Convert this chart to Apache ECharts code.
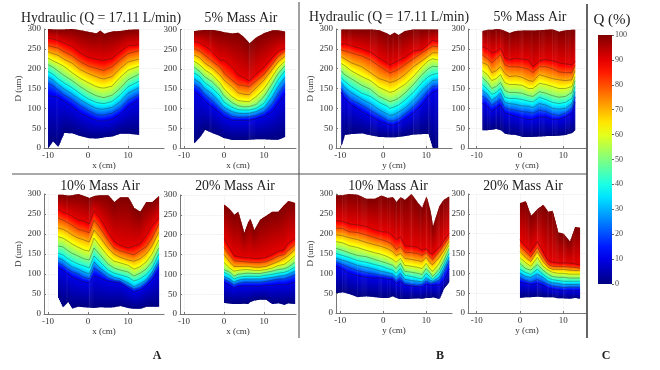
<!DOCTYPE html>
<html><head><meta charset="utf-8">
<style>html,body{margin:0;padding:0;background:#fff}#c{width:660px;height:370px;filter:blur(0.35px)}</style>
<script src="https://cdn.jsdelivr.net/npm/echarts@6/dist/echarts.min.js"></script>
</head><body><div id="c"></div>
<script>
// Each level table runs bottom edge (Q=0), Q=10 ... Q=90, top edge (Q=100); values are D in um.
const levelsQ = [0,10,20,30,40,50,60,70,80,90,100];
const colorbarTicks = [0,10,20,30,40,50,60,70,80,90,100];

const a1x = [-10,-8.8,-7.5,-6,-4,-2,0,2,3,4,6,8,10,12.7];
const a1d = [
[0,17,3,38,37,30,25,24,25,27,29,36,36,33],
[132,130,128,118,104,88,78,70,68,68,72,84,104,122],
[163,157,146,134,122,107,95,85,83,83,88,100,120,135],
[178,172,160,149,136,122,110,100,98,98,102,116,138,152],
[193,186,175,164,152,137,124,115,113,112,117,133,154,168],
[210,204,194,183,170,155,142,132,129,127,133,150,172,186],
[227,220,214,206,190,176,165,155,152,151,156,178,196,206],
[243,238,234,224,214,198,188,180,176,174,180,200,217,224],
[258,255,252,243,233,218,207,201,198,196,205,222,238,245],
[277,275,271,265,256,240,229,224,222,221,226,243,258,260],
[300,299,299,299,300,297,293,289,296,288,294,295,298,299]];

const a2x = [-7.5,-6,-4.8,-3,-1,0,2,3.5,5,6.3,8,10,12,13.5,15.2];
const a2d = [
[12,28,46,38,30,25,20,20,20,21,22,22,21,21,28],
[143,132,118,104,88,78,70,70,70,70,74,80,92,112,135],
[160,150,135,120,100,92,80,78,78,79,82,90,110,135,160],
[175,165,150,137,115,103,92,88,87,88,92,102,128,155,178],
[190,180,165,152,132,116,103,97,96,96,100,113,145,172,195],
[205,193,180,168,148,132,115,107,104,105,110,130,162,188,208],
[220,210,198,186,165,150,130,120,118,117,130,150,180,203,220],
[236,228,215,203,185,172,155,140,136,135,152,172,198,218,232],
[252,245,235,220,205,190,172,160,158,155,170,187,212,232,245],
[270,266,258,245,222,222,205,185,178,170,187,205,228,245,252],
[296,298,299,299,296,293,290,292,280,265,280,291,298,298,295]];

const b1x = [-9.8,-9,-7.5,-5,-3,-1,1,1.5,2.5,3.5,5,7,9,10.5,11.5,12.7];
const b1d = [
[5,33,35,37,32,28,27,27,27,28,30,34,35,35,0,0],
[140,125,110,92,80,68,60,58,58,62,72,88,108,130,140,145],
[150,137,122,108,95,82,70,68,68,73,85,103,125,145,155,157],
[165,153,140,123,112,97,85,82,84,90,100,120,145,160,170,172],
[178,168,155,138,130,115,105,100,103,108,120,140,165,180,185,188],
[195,185,175,158,148,130,120,117,120,125,138,160,185,200,206,205],
[213,208,195,180,170,153,143,140,143,150,160,180,205,220,225,222],
[230,225,215,205,190,175,168,165,168,173,185,205,220,232,240,240],
[247,245,240,232,222,207,193,189,193,198,210,225,240,250,257,255],
[261,263,258,250,242,227,214,209,215,220,228,244,248,262,272,268],
[299,299,299,299,299,297,288,284,291,285,295,299,299,299,299,299]];

const b2x = [-8.7,-7.5,-6.5,-5.5,-4.5,-3.5,-2.5,-1,0.5,2,3,4.5,6,7.5,9,10.5,12,12.7];
const b2d = [
[45,45,46,48,45,36,34,33,28,28,28,29,30,30,31,33,38,45],
[112,105,92,100,108,88,85,80,75,72,72,78,78,72,72,78,88,115],
[130,122,108,115,122,102,98,95,92,90,88,95,92,85,82,88,100,128],
[145,135,120,128,138,115,112,110,106,105,102,112,108,100,98,100,112,142],
[160,148,135,140,150,128,125,125,122,118,116,128,122,115,112,115,125,155],
[178,165,150,155,165,145,140,140,138,132,130,142,138,132,128,130,140,170],
[195,185,170,175,185,165,160,160,158,150,150,163,160,155,150,150,155,180],
[215,210,190,195,205,188,180,182,178,170,168,185,180,175,172,170,172,195],
[235,225,215,225,235,210,205,205,203,198,190,205,205,200,192,190,190,208],
[255,250,240,243,252,228,222,226,224,222,205,220,223,220,215,212,210,218],
[295,298,298,300,299,295,290,295,296,296,296,297,298,299,293,297,298,298]];

const a3x = [-7.5,-6.3,-5,-4,-2.5,-1,0.3,1.5,3,5,6.5,8,10,11.5,13,14.5,16,17.7];
const a3d = [
[42,17,30,14,18,17,16,15,17,16,17,20,15,13,13,18,18,18],
[115,110,100,92,86,80,78,95,90,82,80,78,65,55,60,70,85,110],
[128,122,112,106,100,92,88,115,105,90,84,82,70,62,66,78,95,125],
[140,135,125,118,112,105,100,130,115,100,92,88,78,68,75,85,105,135],
[152,148,138,132,125,120,115,145,130,110,102,98,92,82,88,98,115,150],
[170,168,158,152,145,138,135,165,148,125,115,110,105,95,102,112,130,165],
[193,190,182,175,167,160,157,190,170,145,132,128,122,112,118,130,150,185],
[215,212,205,198,190,185,180,210,192,165,150,142,135,132,138,150,170,205],
[240,235,228,222,212,208,203,235,215,185,165,158,152,148,158,168,190,225],
[263,255,250,245,235,232,225,258,240,205,182,172,165,170,175,195,220,240],
[298,298,296,297,300,295,290,295,297,297,280,292,292,265,256,280,280,295]];

const a4x = [0,1.5,2.5,3.5,5,6,6.5,7.5,9,10.5,12,13.5,15,16,17.7];
const a4d = [
[28,26,25,25,26,25,30,34,36,36,25,27,23,27,25],
[80,72,65,70,70,70,70,70,70,72,72,74,74,75,80],
[88,80,73,77,80,80,80,80,80,82,85,88,88,92,98],
[95,88,80,85,88,88,88,88,88,90,92,95,97,100,108],
[105,97,88,92,95,95,95,95,95,98,100,103,105,108,118],
[112,105,95,100,102,103,103,102,102,105,108,112,114,118,130],
[130,115,108,110,112,112,112,110,110,112,116,122,125,132,147],
[150,130,120,120,120,120,120,118,118,120,126,132,140,147,162],
[168,147,135,133,132,131,130,130,130,132,138,146,150,160,175],
[190,165,147,145,142,142,141,140,140,143,150,158,162,178,190],
[276,263,250,258,205,232,240,212,238,248,258,258,275,285,280]];

const b3x = [-11,-9.5,-8,-6,-4,-2,-0.5,1,2.2,3,4,5,6.5,8,9,10,11,11.5,13,14,15.3];
const b3d = [
[50,52,48,40,42,40,38,38,42,38,35,35,36,37,36,38,38,40,35,60,78],
[118,110,100,94,90,88,88,85,85,75,80,70,68,66,65,72,70,70,70,80,110],
[128,122,115,107,102,98,95,92,90,82,88,75,72,70,72,80,75,76,82,100,130],
[138,133,128,120,115,110,105,102,98,90,100,85,82,80,78,88,82,80,90,110,140],
[150,145,140,132,128,122,118,112,108,100,112,95,92,88,86,100,90,85,100,120,150],
[163,158,152,145,142,135,130,125,120,112,125,105,103,100,97,112,100,92,110,130,162],
[180,177,170,165,158,152,148,142,135,128,138,120,118,115,112,125,110,105,125,145,172],
[197,195,190,185,178,172,168,162,155,145,150,138,135,132,130,140,125,122,140,155,180],
[214,213,205,203,197,190,185,180,172,160,168,153,152,150,145,152,140,135,155,170,190],
[233,231,225,222,218,210,205,204,195,185,192,170,168,166,158,162,150,150,165,180,200],
[297,297,300,298,288,288,296,290,292,280,292,285,300,278,265,294,255,218,269,285,294]];

const b4x = [0,1.3,2.5,4,5.3,6.5,7.5,8.8,10,11.5,12.7,13.8];
const b4d = [
[38,40,40,41,40,40,40,37,37,36,38,36],
[78,75,72,74,70,62,60,58,56,56,56,56],
[88,82,78,84,78,72,68,66,64,65,65,65],
[100,92,90,98,90,80,76,75,72,72,72,72],
[110,102,97,110,98,88,84,82,80,80,80,80],
[125,112,108,122,108,98,92,90,90,88,88,88],
[140,127,118,140,118,108,103,100,100,98,98,98],
[155,140,130,155,130,115,110,110,110,108,107,107],
[170,155,142,165,142,122,118,117,117,116,115,113],
[185,168,155,180,155,132,128,126,126,126,124,122],
[277,282,245,262,273,255,258,203,200,180,217,215]];

const panelTitles = ['Hydraulic (Q = 17.11 L/min)','5% Mass Air','Hydraulic (Q = 17.11 L/min)','5% Mass Air','10% Mass Air','20% Mass Air','10% Mass Air','20% Mass Air'];

const SERIF = '"Liberation Serif","Times New Roman",serif';
const panels = [
 {x:a1x,d:a1d,xn:'x (cm)',yn:'D (um)',l:44,w:120,t:29,h:119,min:-11,max:19,cx:101,ty:18},
 {x:a2x,d:a2d,xn:'x (cm)',l:180,w:116,t:29.5,h:118.5,min:-11,max:18,cx:241,ty:18},
 {x:b1x,d:b1d,xn:'y (cm)',yn:'D (um)',l:336,w:116,t:29,h:119,min:-11,max:16,cx:389,ty:17},
 {x:b2x,d:b2d,xn:'y (cm)',l:468,w:118,t:29,h:119,min:-12,max:15.25,cx:530,ty:17},
 {x:a3x,d:a3d,xn:'x (cm)',yn:'D (um)',l:44,w:120,t:194,h:120,min:-11,max:19,cx:100,ty:186},
 {x:a4x,d:a4d,xn:'x (cm)',l:180,w:116,t:195,h:119,min:-11,max:18,cx:235,ty:186},
 {x:b3x,d:b3d,xn:'y (cm)',yn:'D (um)',l:336,w:116,t:194,h:119,min:-11,max:16,cx:388,ty:186},
 {x:b4x,d:b4d,xn:'y (cm)',l:468,w:118,t:194,h:119,min:-12,max:15.25,cx:523,ty:186}
];

function jet(q){
  const v=q/100;
  const f=(c)=>Math.round(255*Math.max(0,Math.min(1,1.5-Math.abs(4*v-c))));
  return 'rgb('+f(3)+','+f(2)+','+f(1)+')';
}
function stops(q0,q1){
  const r=[];
  for(let k=0;k<=4;k++) r.push({offset:k/4,color:jet(q0+(q1-q0)*k/4)});
  return r;
}
function renderBand(params,api){
  const q0=api.value(6),q1=api.value(7);
  const a=api.coord([api.value(0),api.value(2)]),b=api.coord([api.value(0),api.value(3)]);
  const c=api.coord([api.value(1),api.value(4)]),d=api.coord([api.value(1),api.value(5)]);
  const n=Math.max(1,Math.ceil(c[0]-a[0]));
  const cs=stops(q0,q1),children=[];
  const lastBand=q1>=100;
  for(let i=0;i<n;i++){
    const t0=i/n,t1=(i+1)/n,tm=(t0+t1)/2;
    const px0=a[0]+(c[0]-a[0])*t0,px1=a[0]+(c[0]-a[0])*t1;
    const over=i<n-1?0.6:0.35;
    const lo0=a[1]+(c[1]-a[1])*t0,lo1=a[1]+(c[1]-a[1])*t1;
    const hi0=b[1]+(d[1]-b[1])*t0,hi1=b[1]+(d[1]-b[1])*t1;
    const ylo=a[1]+(c[1]-a[1])*tm,yhi=b[1]+(d[1]-b[1])*tm;
    const grad={type:'linear',x:0,y:ylo,x2:0,y2:yhi,global:true,colorStops:cs};
    const up=lastBand?0:0.5;
    children.push({type:'polygon',shape:{points:[[px0,lo0],[px1+over,lo1],[px1+over,hi1-up],[px0,hi0-up]]},style:{fill:grad},silent:true});
  }
  return {type:'group',children};
}

const option={animation:false,backgroundColor:'#fff',grid:[],xAxis:[],yAxis:[],series:[],
 title:[],graphic:[]};
const axisText={fontFamily:SERIF,fontSize:9,color:'#333'};
const mkTitle=(text,cx,cy,size,weight)=>({text,left:cx,top:cy-size/2,padding:0,textAlign:'center',
  textStyle:{fontFamily:SERIF,fontSize:size,fontWeight:weight,color:'#222'}});
panels.forEach((p,i)=>{
  option.grid.push({left:p.l,top:p.t,width:p.w,height:p.h,containLabel:false});
  const ln={show:true,lineStyle:{color:'#777',width:1}};
  const gridLine={show:true,lineStyle:{color:'#e4e4e4',width:0.7,type:'dotted'}};
  option.xAxis.push({type:'value',gridIndex:i,min:p.min,max:p.max,name:p.xn,nameLocation:'middle',nameGap:13,
    nameTextStyle:axisText,axisLine:{...ln,onZero:false},axisTick:{show:true,inside:true,length:2,lineStyle:{color:'#777'},customValues:[-10,0,10]},
    axisLabel:{...axisText,margin:3,customValues:[-10,0,10],formatter:v=>String(v)},splitLine:gridLine});
  option.yAxis.push({type:'value',gridIndex:i,min:0,max:300,interval:50,name:p.yn||'',nameLocation:'middle',nameGap:21,
    nameTextStyle:axisText,axisLine:{...ln,onZero:false},axisTick:{show:true,inside:true,length:2,lineStyle:{color:'#777'}},
    axisLabel:{...axisText,margin:3},splitLine:gridLine});
  const items=[];
  for(let b=0;b<levelsQ.length-1;b++){
    for(let s=0;s<p.x.length-1;s++){
      items.push([p.x[s],p.x[s+1],p.d[b][s],p.d[b+1][s],p.d[b][s+1],p.d[b+1][s+1],levelsQ[b],levelsQ[b+1]]);
    }
  }
  option.series.push({type:'custom',xAxisIndex:i,yAxisIndex:i,data:items,renderItem:renderBand,silent:true,z:2,
    encode:{x:[0,1],y:[2,3,4,5]},clip:false});
  for(let b=1;b<levelsQ.length-1;b++){
    option.series.push({type:'line',xAxisIndex:i,yAxisIndex:i,showSymbol:false,silent:true,z:3,
      data:p.x.map((x,k)=>[x,p.d[b][k]]),lineStyle:{color:'#1c1c1c',width:0.7,opacity:0.5}});
  }
  option.title.push(mkTitle(panelTitles[i],p.cx,p.ty,13.8,'normal'));
});
// colour bar
const cbi=panels.length;
option.grid.push({left:598,top:35,width:14,height:249});
option.xAxis.push({type:'category',gridIndex:cbi,data:['Q'],show:false});
option.yAxis.push({type:'value',gridIndex:cbi,position:'right',min:0,max:100,interval:10,splitLine:{show:false},
  axisLine:{show:false},axisTick:{show:true,length:2,lineStyle:{color:'#666'}},
  axisLabel:{fontFamily:SERIF,fontSize:8,color:'#444',margin:3,customValues:colorbarTicks}});
const barStops=[];for(let q=100;q>=0;q-=5)barStops.push({offset:1-q/100,color:jet(q)});
option.series.push({type:'bar',xAxisIndex:cbi,yAxisIndex:cbi,data:[100],barWidth:'100%',silent:true,
  itemStyle:{color:{type:'linear',x:0,y:0,x2:0,y2:1,colorStops:barStops}}});
option.title.push(mkTitle('Q (%)',612,20,15,'normal'));
[['A',157,356],['B',440,356],['C',606,356]].forEach(t=>option.title.push(mkTitle(t[0],t[1],t[2],12,'bold')));
const rule=(x1,y1,x2,y2,c,w)=>({type:'line',shape:{x1,y1,x2,y2},style:{stroke:c,lineWidth:w},z:10,silent:true});
option.graphic=[rule(299,2,299,338,'#8a8a8a',1.6),rule(587,4,587,338,'#555',1.8),rule(12,174,587,174,'#555',1.2)];
echarts.init(document.getElementById('c'),null,{renderer:'canvas'}).setOption(option);
</script></body></html>
